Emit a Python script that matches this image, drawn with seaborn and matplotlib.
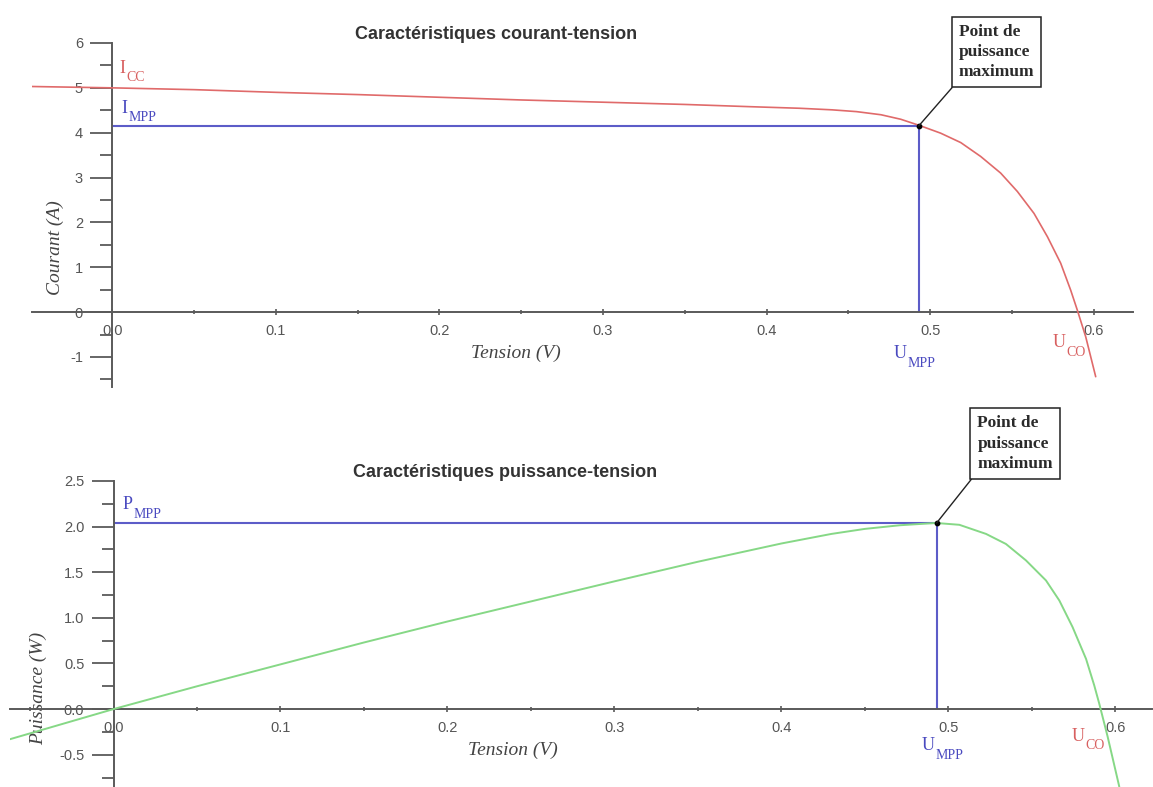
import numpy as np
import pandas as pd
import matplotlib
matplotlib.use("Agg")
import matplotlib.pyplot as plt
from matplotlib.ticker import MultipleLocator, FormatStrFormatter
import seaborn as sns

# ---------------- data ----------------
tension_iv = [-0.049, 0.0, 0.05, 0.10, 0.15, 0.20, 0.25, 0.30, 0.35, 0.39, 0.42,
              0.44, 0.455, 0.47, 0.482, 0.4936, 0.5064, 0.5187, 0.5309, 0.5431, 0.5533,
              0.5635, 0.5717, 0.5798, 0.5859, 0.5900, 0.5951, 0.6012]
courant = [5.03, 5.00, 4.96, 4.90, 4.85, 4.79, 4.73, 4.68, 4.63, 4.58, 4.545,
           4.51, 4.47, 4.40, 4.30, 4.16, 3.99, 3.78, 3.47, 3.10, 2.69,
           2.20, 1.68, 1.09, 0.49, 0.04, -0.55, -1.44]

tension_pv = [-0.062, 0.0, 0.05, 0.10, 0.15, 0.20, 0.25, 0.30, 0.35, 0.40, 0.43, 0.45,
              0.471, 0.4926, 0.5066, 0.5226, 0.5345, 0.5465, 0.5585, 0.5665, 0.5744,
              0.5825, 0.5874, 0.5904, 0.5954, 0.6024]
puissance = [-0.33, 0.0, 0.25, 0.49, 0.73, 0.96, 1.18, 1.40, 1.615, 1.815, 1.92, 1.975,
             2.015, 2.04, 2.02, 1.92, 1.81, 1.63, 1.41, 1.19, 0.90,
             0.55, 0.26, 0.06, -0.30, -0.85]

U_MPP = 0.493
I_MPP = 4.15
P_MPP = 2.04

title_iv = "Caractéristiques courant-tension"
title_pv = "Caractéristiques puissance-tension"
xlabel = "Tension (V)"
ylabel_iv = "Courant (A)"
ylabel_pv = "Puissance (W)"
box_text = "Point de\npuissance\nmaximum"

# ---------------- style ----------------
sns.set_style("white")
plt.rcParams["font.family"] = ["Liberation Sans", "DejaVu Sans"]
SERIF = ["Liberation Serif", "DejaVu Serif"]

RED = "#e06a6a"
BLUE = "#5c5cc8"
GREEN = "#86d886"
AXC = "#5a5a5a"
TXT_RED = "#d86060"
TXT_BLUE = "#4a4ac0"

fig = plt.figure(figsize=(11.53, 7.87), dpi=100)
ax1 = fig.add_axes([32 / 1153, 1 - 387 / 787, (1133 - 32) / 1153, (387 - 43) / 787])
ax2 = fig.add_axes([10 / 1153, 0.0, (1152 - 10) / 1153, (787 - 481) / 787])

df_iv = pd.DataFrame({"Tension": tension_iv, "Courant": courant})
df_pv = pd.DataFrame({"Tension": tension_pv, "Puissance": puissance})

sns.lineplot(data=df_iv, x="Tension", y="Courant", color=RED, lw=1.2, sort=False,
             ax=ax1, zorder=3)
sns.lineplot(data=df_pv, x="Tension", y="Puissance", color=GREEN, lw=1.4, sort=False,
             ax=ax2, zorder=3)

ax1.set_xlim(-0.049, 0.624)
ax1.set_ylim(-1.67, 6.0)
ax2.set_xlim(-0.062, 0.622)
ax2.set_ylim(-0.854, 2.5)

# MPP guide lines
ax1.hlines(I_MPP, 0, U_MPP, color=BLUE, lw=1.5, zorder=2)
ax1.vlines(U_MPP, 0, I_MPP, color=BLUE, lw=1.5, zorder=2)
ax2.hlines(P_MPP, 0, U_MPP, color=BLUE, lw=1.5, zorder=2)
ax2.vlines(U_MPP, 0, P_MPP, color=BLUE, lw=1.5, zorder=2)
ax1.scatter([U_MPP], [I_MPP], s=10, color="black", zorder=5)
ax2.scatter([U_MPP], [P_MPP], s=10, color="black", zorder=5)

for ax, ymaj, ymin, yfmt in [(ax1, 1, 0.5, "%d"), (ax2, 0.5, 0.25, "%.1f")]:
    for s in ["top", "right"]:
        ax.spines[s].set_visible(False)
    ax.spines["left"].set_position(("data", 0))
    ax.spines["bottom"].set_position(("data", 0))
    for s in ["left", "bottom"]:
        ax.spines[s].set_color(AXC)
        ax.spines[s].set_linewidth(1.4)
    ax.xaxis.set_major_locator(MultipleLocator(0.1))
    ax.xaxis.set_minor_locator(MultipleLocator(0.05))
    ax.xaxis.set_major_formatter(FormatStrFormatter("%.1f"))
    ax.yaxis.set_major_locator(MultipleLocator(ymaj))
    ax.yaxis.set_minor_locator(MultipleLocator(ymin))
    ax.yaxis.set_major_formatter(FormatStrFormatter(yfmt))
    ax.tick_params(which="both", bottom=True, left=True, top=False, right=False)
    ax.tick_params(axis="y", which="major", direction="out", length=16, width=1.3,
                   pad=5, colors=AXC, labelsize=10.5, labelcolor="#555555")
    ax.tick_params(axis="y", which="minor", direction="out", length=8.5, width=1.3,
                   colors=AXC)
    ax.tick_params(axis="x", which="major", direction="inout", length=5, width=1.2,
                   pad=6, colors=AXC, labelsize=10.5, labelcolor="#555555")
    ax.tick_params(axis="x", which="minor", direction="inout", length=3.5, width=1.2,
                   colors=AXC)
    ax.set_facecolor("none")

# axis labels
serif_it = dict(family=SERIF, style="italic", size=14, color="#444444")
ax1.set_xlabel(xlabel, **serif_it)
ax1.xaxis.set_label_coords((516 - 32) / 1101, (387 - 353) / 344)
ax1.set_ylabel(ylabel_iv, **serif_it)
ax1.yaxis.set_label_coords((55 - 32) / 1101, (387 - 248) / 344)
ax2.set_xlabel(xlabel, **serif_it)
ax2.xaxis.set_label_coords((513 - 10) / 1142, (787 - 750) / 306)
ax2.set_ylabel(ylabel_pv, **serif_it)
ax2.yaxis.set_label_coords((38 - 10) / 1142, (787 - 688) / 306)
for lab in [ax1.xaxis.label, ax2.xaxis.label, ax1.yaxis.label, ax2.yaxis.label]:
    lab.set_va("center")
    lab.set_ha("center")

# titles
t1 = ax1.set_title(title_iv, fontsize=13, fontweight="bold", color="#333333", va="center")
t1.set_position(((496 - 32) / 1101, (387 - 20) / 344))
t2 = ax2.set_title(title_pv, fontsize=13, fontweight="bold", color="#333333", va="center")
t2.set_position(((505 - 10) / 1142, (787 - 458) / 306))


# curve labels: main letter + lowered subscript
def sublabel(ax, x, y, main, sub, color):
    t = ax.text(x, y, main, fontsize=13, family=SERIF, color=color,
                ha="left", va="baseline", zorder=6)
    ax.annotate(sub, xy=(1, 0), xycoords=t, xytext=(0.8, -3.2),
                textcoords="offset points", fontsize=10, family=SERIF,
                color=color, ha="left", va="baseline", zorder=6)


sublabel(ax1, 0.0043, 5.33, "I", "CC", TXT_RED)
sublabel(ax1, 0.0059, 4.44, "I", "MPP", TXT_BLUE)
sublabel(ax1, 0.4777, -1.03, "U", "MPP", TXT_BLUE)
sublabel(ax1, 0.5749, -0.78, "U", "CO", TXT_RED)
sublabel(ax2, 0.0054, 2.19, "P", "MPP", TXT_BLUE)
sublabel(ax2, 0.4838, -0.45, "U", "MPP", TXT_BLUE)
sublabel(ax2, 0.5737, -0.35, "U", "CO", TXT_RED)

# annotation boxes
box = dict(boxstyle="square,pad=0.4", fc="white", ec="#222222", lw=1.1)
arr = dict(arrowstyle="-", color="#222222", lw=1.0, relpos=(0, 0),
           shrinkA=0, shrinkB=0)
for ax, yv, xy_text in [(ax1, I_MPP, (0.5174, 6.43)), (ax2, P_MPP, (0.5174, 3.22))]:
    ax.annotate(box_text, xy=(U_MPP, yv), xytext=xy_text, textcoords="data",
                ha="left", va="top", fontsize=12.5, fontweight="bold",
                family=SERIF, color="#2a2a2a", linespacing=1.35,
                bbox=box, arrowprops=arr, annotation_clip=False, zorder=6)

fig.savefig("out.png", dpi=100, facecolor="white")
